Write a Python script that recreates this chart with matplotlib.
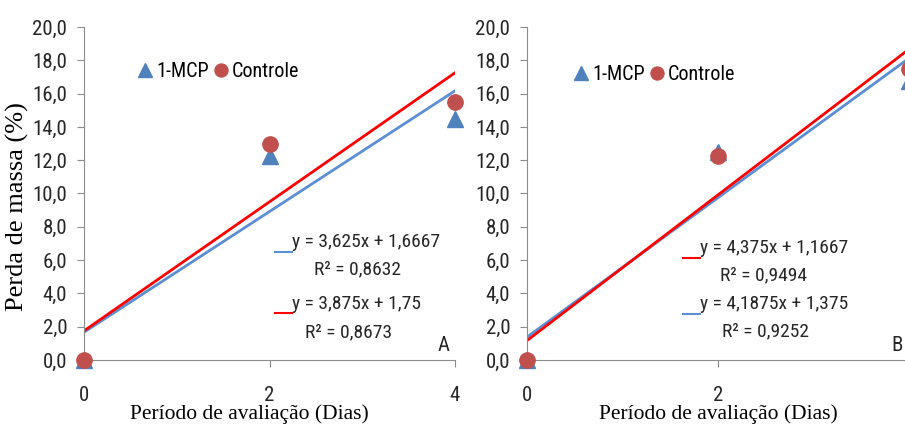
import numpy as np
import matplotlib
matplotlib.use('Agg')
import matplotlib.pyplot as plt
from matplotlib import font_manager

# data
dias = [0, 2, 4]
mcp_a = [0.0, 12.25, 14.5]
controle_a = [0.0, 13.0, 15.5]
mcp_b = [0.0, 12.5, 16.75]
controle_b = [0.0, 12.25, 17.5]

eq_a = ['y = 3,625x + 1,6667', 'R² = 0,8632', 'y = 3,875x + 1,75', 'R² = 0,8673']
eq_b = ['y = 4,375x + 1,1667', 'R² = 0,9494', 'y = 4,1875x + 1,375', 'R² = 0,9252']
y_ticks = [0, 2, 4, 6, 8, 10, 12, 14, 16, 18, 20]
x_ticks = [0, 2, 4]

BLUE = '#4F81BD'
RED_MK = '#C0504D'
LINE_BLUE = '#5B8ED3'
LINE_RED = '#FF0000'


def pick_font(names):
    for n in names:
        try:
            font_manager.findfont(n, fallback_to_default=False)
            return n
        except Exception:
            pass
    return 'DejaVu Sans'


SANS = pick_font(['Liberation Sans Narrow', 'Roboto Condensed', 'Liberation Sans'])
SERIF = pick_font(['Liberation Serif', 'DejaVu Serif'])


def draw_panel(ax, mcp, controle, eq, letter, first_blue, pos):
    # trend lines from linear fit
    xs = np.array([0, 4])
    p_mcp = np.polyfit(dias, mcp, 1)
    p_con = np.polyfit(dias, controle, 1)
    ax.plot(xs, np.polyval(p_mcp, xs), color=LINE_BLUE, lw=2, zorder=2)
    ax.plot(xs, np.polyval(p_con, xs), color=LINE_RED, lw=2, zorder=2)

    h1, = ax.plot(dias, mcp, ls='none', marker='^', ms=12, color=BLUE, clip_on=False, zorder=3)
    h2, = ax.plot(dias, controle, ls='none', marker='o', ms=11, color=RED_MK, clip_on=False, zorder=4)

    ax.set_xlim(0, 4)
    ax.set_ylim(0, 20)
    ax.set_yticks(y_ticks)
    ax.set_yticklabels([f'{v:.1f}'.replace('.', ',') for v in y_ticks])
    ax.set_xticks(x_ticks)
    for s in ['top', 'right']:
        ax.spines[s].set_visible(False)
    for s in ['left', 'bottom']:
        ax.spines[s].set_color('#8c8c8c')
    ax.tick_params(colors='#8c8c8c', labelcolor='#262626', length=5, labelsize=15)
    ax.tick_params(axis='x', pad=14)
    ax.tick_params(axis='y', pad=7)
    for lab in ax.get_xticklabels() + ax.get_yticklabels():
        lab.set_family(SANS)

    ax.legend([h1, h2], ['1-MCP', 'Controle'], ncol=2, frameon=False,
              loc='center left', bbox_to_anchor=(pos[0], pos[1]),
              handletextpad=0.1, handlelength=0.9, columnspacing=0.15, borderpad=0,
              prop={'family': SANS, 'size': 14.5}, markerscale=0.85)

    ax.set_xlabel('Período de avaliação (Dias)', family=SERIF, fontsize=15.5, labelpad=0)

    # equation labels
    c1 = LINE_BLUE if first_blue else LINE_RED
    c2 = LINE_RED if first_blue else LINE_BLUE
    tx = pos[2]
    ax.plot([tx[0], tx[1]], [tx[2], tx[2]], color=c1, lw=1.5, transform=ax.transAxes, clip_on=False)
    ax.plot([tx[0], tx[1]], [tx[3], tx[3]], color=c2, lw=1.5, transform=ax.transAxes, clip_on=False)
    kw = dict(transform=ax.transAxes, family=SANS, fontsize=14, color='#262626', va='center')
    ax.text(tx[1], tx[4], eq[0], **kw)
    ax.text(tx[5], tx[6], eq[1], **kw)
    ax.text(tx[1], tx[7], eq[2], **kw)
    ax.text(tx[8], tx[9], eq[3], **kw)
    ax.text(tx[10], 0.045, letter, transform=ax.transAxes, family=SANS, fontsize=15,
            color='#262626', va='center', ha='center')


fig = plt.figure(figsize=(9.05, 4.25), dpi=100)
ax1 = fig.add_axes([84 / 905, 65 / 425, 371 / 905, 333 / 425])
ax2 = fig.add_axes([527 / 905, 65 / 425, 382 / 905, 333 / 425])

draw_panel(ax1, mcp_a, controle_a, eq_a, 'A', True,
           (0.113, 0.865, [0.515, 0.561, 0.324, 0.141, 0.354, 0.62, 0.273, 0.168, 0.596, 0.084, 0.97]))
draw_panel(ax2, mcp_b, controle_b, eq_b, 'B', False,
           (0.092, 0.856, [0.408, 0.453, 0.306, 0.138, 0.336, 0.505, 0.255, 0.168, 0.51, 0.087, 0.969]))

ax1.set_ylabel('Perda de massa (%)', family=SERIF, fontsize=19)
ax1.yaxis.set_label_coords(-0.148, 0.46)
ax1.xaxis.set_label_coords(0.446, -0.134)
ax2.xaxis.set_label_coords(0.5, -0.134)

fig.savefig('out.png', dpi=100)
